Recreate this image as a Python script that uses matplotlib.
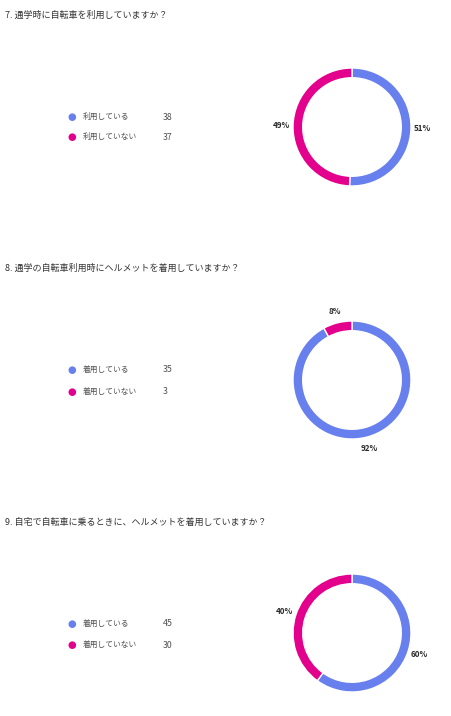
import matplotlib
matplotlib.use("Agg")
import matplotlib.pyplot as plt

plt.rcParams['font.family'] = ['Noto Sans CJK JP', 'DejaVu Sans']

W, H = 451, 716

titles = [
    "7. 通学時に自転車を利用していますか？",
    "8. 通学の自転車利用時にヘルメットを着用していますか？",
    "9. 自宅で自転車に乗るときに、ヘルメットを着用していますか？",
]
labels_q7 = ["利用している", "利用していない"]
labels_q8 = ["着用している", "着用していない"]
labels_q9 = ["着用している", "着用していない"]
counts_q7 = [38, 37]
counts_q8 = [35, 3]
counts_q9 = [45, 30]

colors = ["#6880EE", "#E3008C"]

# pixel layout: title y, donut center y, legend rows y
title_y = [15, 268, 522]
donut_cy = [127, 380, 633]
legend_y = [[117, 137], [370, 392], [624, 645]]
DONUT_CX = 352
R_PX = 59


def fx(x):
    return x / W


def fy(y):
    return 1 - y / H


fig = plt.figure(figsize=(W / 100, H / 100), dpi=100)
fig.patch.set_facecolor("white")

panels = [
    (labels_q7, counts_q7),
    (labels_q8, counts_q8),
    (labels_q9, counts_q9),
]

for i, (labels, counts) in enumerate(panels):
    fig.text(fx(5), fy(title_y[i]), titles[i], fontsize=6.5, color="#333333",
             va="center", ha="left")

    # legend
    for j, (lab, cnt) in enumerate(zip(labels, counts)):
        y = legend_y[i][j]
        fig.text(fx(72), fy(y), "●", fontsize=7.2, color=colors[j],
                 va="center", ha="center", family=["DejaVu Sans"])
        fig.text(fx(83), fy(y), lab, fontsize=5.6, color="#505050",
                 va="center", ha="left")
        fig.text(fx(163), fy(y), str(cnt), fontsize=6.3, color="#505050",
                 va="center", ha="left")

    # donut
    half = R_PX * 1.5
    ax = fig.add_axes([fx(DONUT_CX - half), fy(donut_cy[i] + half),
                       2 * half / W, 2 * half / H])
    total = sum(counts)
    wedges, texts = ax.pie(counts, colors=colors, startangle=90, counterclock=False,
                           radius=1, labels=["%d%%" % round(c * 100 / total) for c in counts],
                           labeldistance=1.2,
                           wedgeprops=dict(width=0.165, edgecolor="white", linewidth=1),
                           textprops=dict(fontsize=5.8, color="#2a2a2a", fontweight="bold"))
    for t in texts:
        t.set_ha("center")
        t.set_va("center")
    ax.set_xlim(-1.5, 1.5)
    ax.set_ylim(-1.5, 1.5)
    ax.set_aspect("equal")
    ax.axis("off")

fig.savefig("out.png", dpi=100, facecolor="white")
